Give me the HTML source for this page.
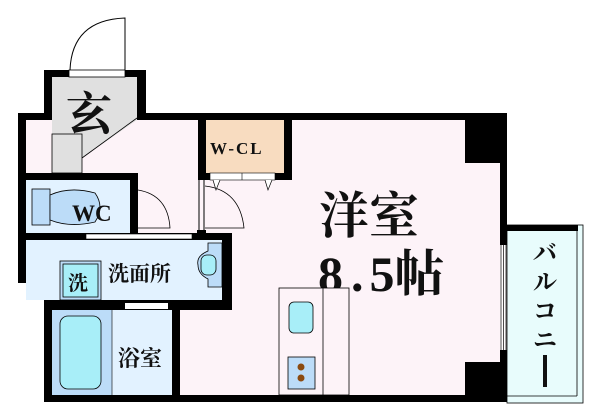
<!DOCTYPE html>
<html><head><meta charset="utf-8"><style>html,body{margin:0;padding:0;background:#fff}svg{display:block}text{font-family:"Liberation Serif","Noto Serif CJK SC",serif;font-weight:bold;fill:#111}</style></head><body>
<svg width="600" height="419" viewBox="0 0 600 419" xmlns="http://www.w3.org/2000/svg">
<rect width="600" height="419" fill="#fff"/>
<!-- entrance door -->
<path d="M70 70 Q72 20 125 18 L125 70" fill="none" stroke="#000" stroke-width="1"/>
<!-- main room fill -->
<rect x="26" y="120" width="474" height="275" fill="#fdf3f8"/>
<rect x="0" y="283" width="44" height="136" fill="#fff"/>
<!-- black walls -->
<rect x="44" y="70" width="102" height="50" fill="#000"/>
<rect x="18" y="113" width="489" height="7" fill="#000"/>
<rect x="18" y="113" width="8" height="170" fill="#000"/>
<rect x="18" y="275" width="34" height="8" fill="#000"/>
<rect x="44" y="275" width="8" height="127" fill="#000"/>
<rect x="44" y="395" width="463" height="7" fill="#000"/>
<rect x="465" y="113" width="42" height="50" fill="#000"/>
<rect x="500" y="113" width="7" height="289" fill="#000"/>
<rect x="465" y="362" width="42" height="40" fill="#000"/>
<!-- genkan -->
<rect x="52" y="77" width="85" height="96" fill="#e0e0e0"/>
<rect x="69" y="70" width="56" height="7" fill="#fff" stroke="#000" stroke-width="0.8"/>
<path d="M137 118 L137 120 L82 158 L82 173 L137 173Z" fill="#fdf3f8"/>
<path d="M137 118 L82 158" stroke="#000" stroke-width="0.8"/>
<rect x="52" y="134" width="30" height="39" fill="#e0e0e0" stroke="#000" stroke-width="0.8"/>
<text x="66" y="130" font-size="46">玄</text>
<!-- WC -->
<rect x="18" y="173" width="120" height="7" fill="#000"/>
<rect x="130" y="173" width="8" height="60" fill="#000"/>
<rect x="26" y="180" width="104" height="53" fill="#e2f2ff"/>
<rect x="32" y="189" width="18" height="36" fill="#bcdcf8" stroke="#000" stroke-width="0.8"/>
<path d="M50 195 Q70 186 95 193 Q105 207 95 222 Q70 228 50 220Z" fill="#bcdcf8" stroke="#000" stroke-width="0.8"/>
<text x="72" y="221" font-size="23">WC</text>
<path d="M138 190 Q168 195 170 228 L138 228" fill="none" stroke="#000" stroke-width="0.8"/>
<!-- wall between WC/washroom -->
<rect x="18" y="233" width="214" height="7" fill="#000"/>
<rect x="86" y="234" width="106" height="5" fill="#fff" stroke="#000" stroke-width="0.6"/>
<!-- washroom -->
<rect x="26" y="240" width="196" height="60" fill="#e2f2ff"/>
<rect x="222" y="233" width="10" height="77" fill="#000"/>
<rect x="44" y="300" width="188" height="10" fill="#000"/>
<rect x="125" y="303" width="43" height="6" fill="#fff"/>
<path d="M156 310 L161 325 L166 310" fill="#fff" stroke="#000" stroke-width="0.8"/>
<rect x="60" y="261" width="41" height="39" fill="#bcdcf8" stroke="#000" stroke-width="0.8"/>
<rect x="63" y="264" width="35" height="33" fill="#a8eef8" stroke="#000" stroke-width="0.8"/>
<text x="68" y="290" font-size="20">洗</text>
<text x="108" y="281" font-size="21">洗面所</text>
<path d="M222 243 L208 243 L208 251 Q196 256 198 265 Q198 274 208 279 L208 287 L222 287Z" fill="#bcdcf8" stroke="#000" stroke-width="0.8"/>
<rect x="201" y="255" width="15" height="20" rx="6" fill="#a8eef8" stroke="#000" stroke-width="0.8"/>
<!-- bath -->
<rect x="52" y="310" width="120" height="85" fill="#e2f2ff"/>
<rect x="52" y="310" width="60" height="85" fill="#bcdcf8"/>
<line x1="112" y1="310" x2="112" y2="395" stroke="#000" stroke-width="0.6"/>
<rect x="60" y="316" width="41" height="73" rx="8" fill="#a8eef8" stroke="#000" stroke-width="0.8"/>
<rect x="172" y="300" width="8" height="102" fill="#000"/>
<text x="118" y="366" font-size="22">浴室</text>
<!-- door to main room -->
<line x1="199" y1="180" x2="199" y2="231" stroke="#000" stroke-width="1"/>
<line x1="204" y1="180" x2="204" y2="231" stroke="#000" stroke-width="1"/>
<rect x="197" y="230" width="9" height="8" fill="#000"/>
<path d="M205 186 Q240 190 244 228 L205 228" fill="none" stroke="#000" stroke-width="0.8"/>
<!-- W-CL -->
<rect x="198" y="113" width="94" height="67" fill="#000"/>
<rect x="206" y="120" width="78" height="53" fill="#f8dcc0"/>
<rect x="210" y="173" width="65" height="7" fill="#fff" stroke="#000" stroke-width="0.6"/>
<line x1="242" y1="173" x2="242" y2="180" stroke="#000" stroke-width="0.6"/>
<path d="M213 180 L216 190 L220 180 M265 180 L268 190 L272 180" fill="#fff" stroke="#000" stroke-width="0.7"/>
<text x="210" y="154" font-size="17" letter-spacing="2">W-CL</text>
<!-- main room text -->
<text x="319" y="233" font-size="50">洋室</text>
<text x="318" y="291" font-size="50">8<tspan dx="8">.</tspan><tspan dx="6">5帖</tspan></text>
<!-- kitchen -->
<rect x="279" y="288" width="70" height="107" fill="#fdf3f8" stroke="#000" stroke-width="0.8"/>
<line x1="323" y1="288" x2="323" y2="395" stroke="#000" stroke-width="0.8"/>
<rect x="289" y="302" width="24" height="31" rx="5" fill="#a8eef8" stroke="#000" stroke-width="0.8"/>
<rect x="288" y="357" width="27" height="32" fill="#bcdcf8" stroke="#000" stroke-width="0.8"/>
<circle cx="301" cy="367" r="3.5" fill="#8b4a10"/>
<circle cx="301" cy="378" r="3.5" fill="#8b4a10"/>
<!-- window -->
<rect x="500" y="245" width="7" height="105" fill="#fff"/>
<line x1="501" y1="245" x2="501" y2="350" stroke="#000" stroke-width="0.7"/>
<line x1="503.5" y1="245" x2="503.5" y2="350" stroke="#000" stroke-width="0.7"/>
<line x1="506" y1="245" x2="506" y2="350" stroke="#000" stroke-width="0.7"/>
<!-- balcony -->
<rect x="507" y="225" width="76" height="178" fill="#e8fcfc" stroke="#000" stroke-width="0.8"/>
<rect x="507" y="225" width="71" height="6" fill="#000"/>
<line x1="577" y1="231" x2="577" y2="396" stroke="#000" stroke-width="0.8"/>
<line x1="507" y1="396" x2="577" y2="396" stroke="#000" stroke-width="0.8"/>
<text x="545" y="261" font-size="24" text-anchor="middle">バ</text>
<text x="545" y="290" font-size="24" text-anchor="middle">ル</text>
<text x="545" y="319" font-size="24" text-anchor="middle">コ</text>
<text x="545" y="348" font-size="24" text-anchor="middle">ニ</text>
<rect x="543" y="355" width="4" height="32" fill="#111"/>
</svg>
</body></html>
